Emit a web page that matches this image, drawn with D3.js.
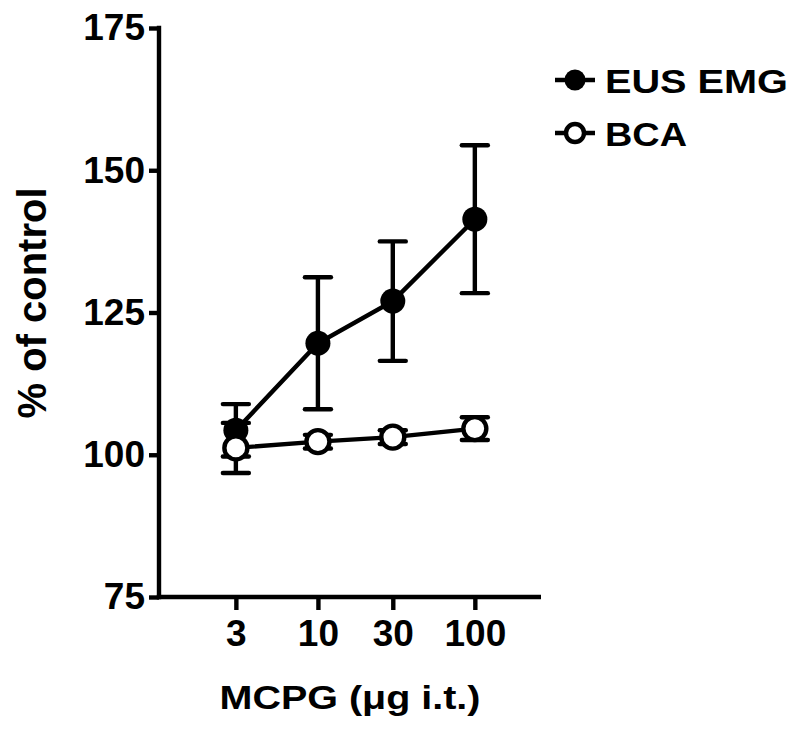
<!DOCTYPE html>
<html>
<head>
<meta charset="utf-8">
<script src="https://cdn.jsdelivr.net/npm/d3@7/dist/d3.min.js"></script>
<style>
  html, body { margin: 0; padding: 0; background: #fff; }
  svg { display: block; }
  text { font-family: "Liberation Sans", Arial, sans-serif; font-weight: bold; fill: #000; }
</style>
</head>
<body>
<svg id="chart" width="800" height="735"></svg>
<script>
// ---- data ----
const doses = [3, 10, 30, 100];
const doseLabels = ["3", "10", "30", "100"];
const eusMean = [104.3, 119.6, 127.0, 141.4];
const eusSem  = [4.6, 11.6, 10.5, 13.0];
const bcaMean = [101.2, 102.3, 103.1, 104.6];
const bcaSem  = [4.4, 1.2, 1.2, 2.0];
const yTicks = [75, 100, 125, 150, 175];
const seriesNames = ["EUS EMG", "BCA"];
const xTitle = "MCPG (\u03bcg i.t.)";
const yTitle = "% of control";

// ---- layout ----
const svg = d3.select("#chart");
const axisX = 159;          // y-axis position
const axisY = 597;          // x-axis position
const x = d3.scaleLog().domain([1, 264]).range([161, 541]);
const y = d3.scaleLinear().domain([75, 175]).range([597, 28]);
const SW = 4.4;

// ---- axes ----
const yAxis = d3.axisLeft(y).tickValues(yTicks).tickSize(10).tickPadding(4).tickFormat(d3.format("d"));
const gy = svg.append("g").attr("transform", `translate(${axisX},0)`).call(yAxis);
gy.select(".domain").remove();
gy.selectAll(".tick line").attr("stroke", "#000").attr("stroke-width", SW);
gy.selectAll(".tick text").attr("font-size", 37).attr("font-weight", "bold")
  .attr("font-family", "Liberation Sans, Arial, sans-serif").attr("fill", "#000");

const xAxis = d3.axisBottom(x).tickValues(doses).tickSize(13).tickPadding(10)
  .tickFormat((d, i) => doseLabels[i]);
const gx = svg.append("g").attr("transform", `translate(0,${axisY})`).call(xAxis);
gx.select(".domain").remove();
gx.selectAll(".tick line").attr("stroke", "#000").attr("stroke-width", SW);
gx.selectAll(".tick text").attr("font-size", 37).attr("font-weight", "bold")
  .attr("font-family", "Liberation Sans, Arial, sans-serif").attr("fill", "#000");

// axis lines
svg.append("line").attr("x1", axisX).attr("x2", axisX)
  .attr("y1", y.range()[1] - SW / 2).attr("y2", axisY + SW / 2)
  .attr("stroke", "#000").attr("stroke-width", SW);
svg.append("line").attr("x1", axisX - SW / 2).attr("x2", x.range()[1])
  .attr("y1", axisY).attr("y2", axisY)
  .attr("stroke", "#000").attr("stroke-width", SW);

// titles
svg.append("text").attr("x", 350).attr("y", 709).attr("text-anchor", "middle")
  .attr("font-size", 34).attr("textLength", 261).attr("lengthAdjust", "spacingAndGlyphs")
  .text(xTitle);
svg.append("text").attr("transform", "translate(46,303) rotate(-90)")
  .attr("text-anchor", "middle").attr("font-size", 40).text(yTitle);

// ---- series ----
function drawSeries(means, sems, filled) {
  const g = svg.append("g");
  const capW = 13;
  doses.forEach((d, i) => {
    const cx = x(d);
    const top = y(means[i] + sems[i]), bot = y(means[i] - sems[i]);
    g.append("line").attr("x1", cx).attr("x2", cx).attr("y1", top).attr("y2", bot)
      .attr("stroke", "#000").attr("stroke-width", SW);
    [top, bot].forEach(yy => g.append("line").attr("x1", cx - capW).attr("x2", cx + capW)
      .attr("y1", yy).attr("y2", yy).attr("stroke", "#000").attr("stroke-width", SW)
      .attr("stroke-linecap", "round"));
  });
  const line = d3.line().x((d, i) => x(doses[i])).y(d => y(d));
  g.append("path").datum(means).attr("d", line).attr("fill", "none")
    .attr("stroke", "#000").attr("stroke-width", SW);
  g.selectAll("circle").data(means).join("circle")
    .attr("cx", (d, i) => x(doses[i])).attr("cy", d => y(d))
    .attr("r", filled ? 12.5 : 11.5)
    .attr("fill", filled ? "#000" : "#fff")
    .attr("stroke", "#000").attr("stroke-width", filled ? 0 : SW);
}
drawSeries(eusMean, eusSem, true);
drawSeries(bcaMean, bcaSem, false);

// ---- legend ----
const legRows = [
  { name: seriesNames[0], filled: true, cy: 80, tl: 183 },
  { name: seriesNames[1], filled: false, cy: 133, tl: 82 }
];
legRows.forEach(r => {
  svg.append("line").attr("x1", 555).attr("x2", 595).attr("y1", r.cy).attr("y2", r.cy)
    .attr("stroke", "#000").attr("stroke-width", SW);
  svg.append("circle").attr("cx", 575).attr("cy", r.cy).attr("r", r.filled ? 10.5 : 9)
    .attr("fill", r.filled ? "#000" : "#fff").attr("stroke", "#000")
    .attr("stroke-width", r.filled ? 0 : SW);
  svg.append("text").attr("x", 605).attr("y", r.cy + 12.5).attr("font-size", 34)
    .attr("textLength", r.tl).attr("lengthAdjust", "spacingAndGlyphs").text(r.name);
});
</script>
</body>
</html>
